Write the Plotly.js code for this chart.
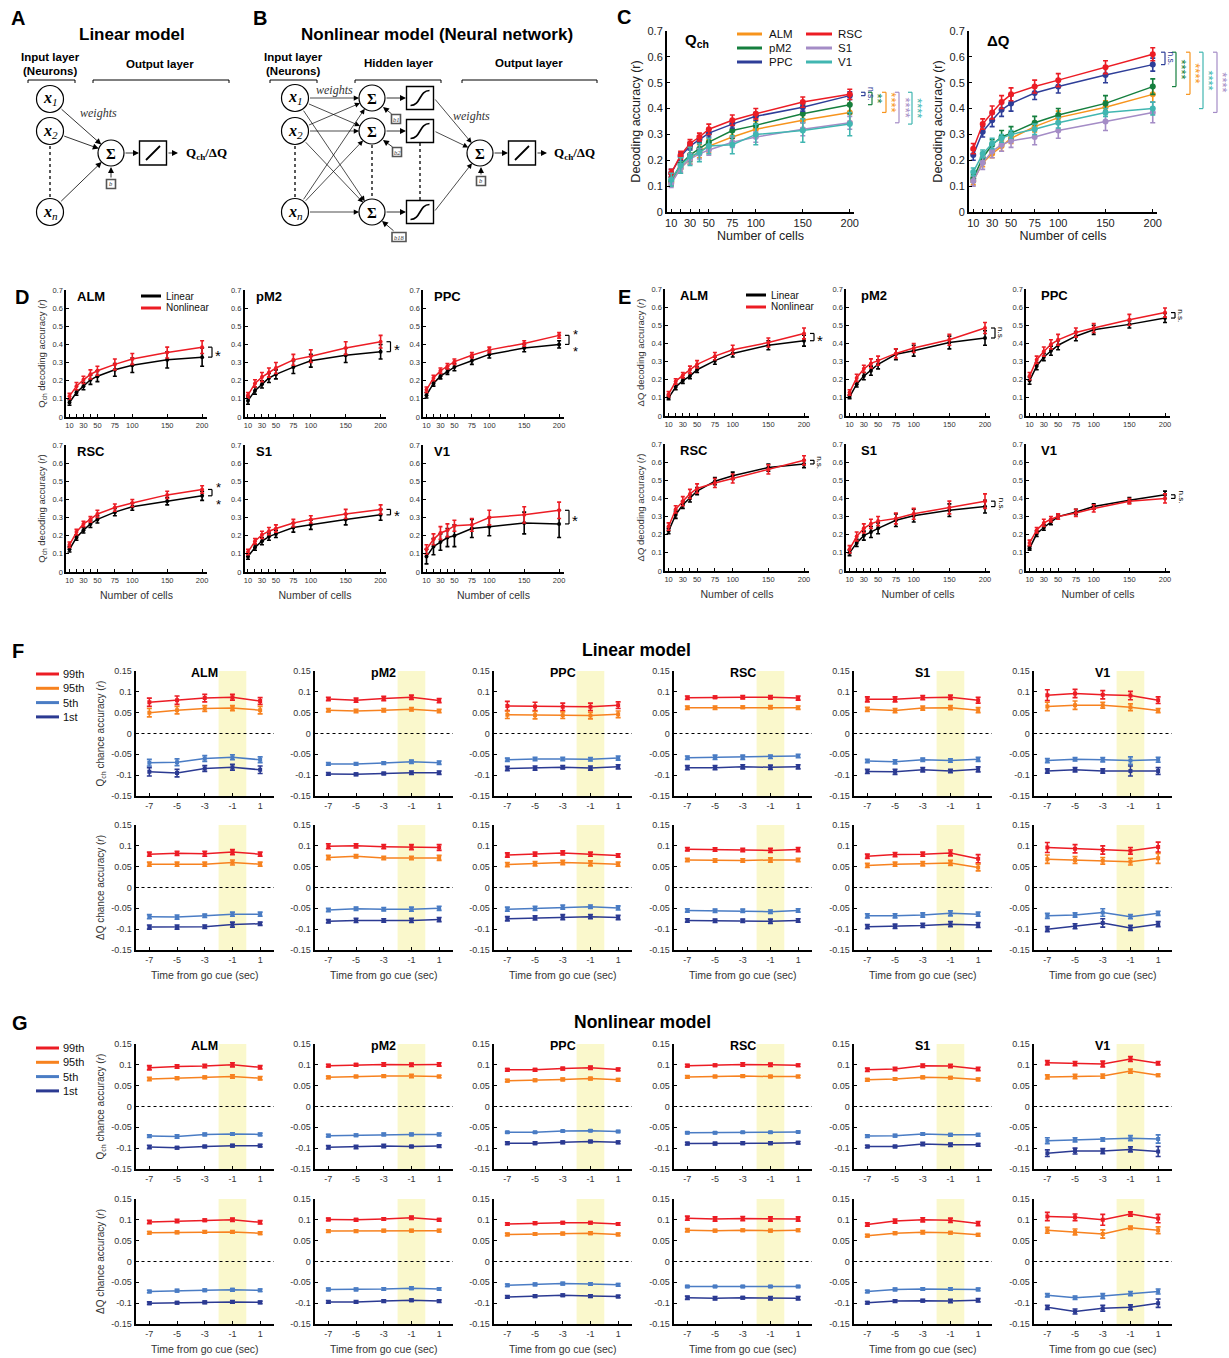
<!DOCTYPE html>
<html><head><meta charset="utf-8">
<script src="https://cdn.plot.ly/plotly-3.0.1.min.js"></script>
<style>html,body{margin:0;padding:0;background:#fff}</style>
</head><body><div id="fig" style="width:1229px;height:1358px"></div>
<script>
// ---------------- DATA ----------------
const nCells = [10,20,30,40,50,75,100,150,200];
const cellTickText = ['10','','30','','50','75','100','150','200'];
const accTicks = [0,0.1,0.2,0.3,0.4,0.5,0.6,0.7];
const accTickText = ['0','0.1','0.2','0.3','0.4','0.5','0.6','0.7'];
const timeBins = [-7,-5,-3,-1,1];
const timeTickText = ['-7','-5','-3','-1','1'];
const chanceTicks = [-0.15,-0.1,-0.05,0,0.05,0.1,0.15];
const chanceTickText = ['-0.15','-0.1','-0.05','0','0.05','0.1','0.15'];
const areas = ['ALM','pM2','PPC','RSC','S1','V1'];
const pctLabels = ['99th','95th','5th','1st'];

// Qch decoding accuracy (nonlinear = NL, linear = L)
const qchNL_ALM = [0.115,0.17,0.205,0.235,0.255,0.29,0.32,0.355,0.385];
const qchNL_ALM_err = [0.015,0.02,0.02,0.025,0.025,0.03,0.03,0.03,0.035];
const qchL_ALM = [0.08,0.135,0.17,0.205,0.225,0.26,0.285,0.315,0.33];
const qchL_ALM_err = [0.015,0.015,0.02,0.025,0.03,0.035,0.04,0.045,0.05];
const qchNL_pM2 = [0.12,0.185,0.22,0.245,0.27,0.315,0.335,0.38,0.415];
const qchNL_pM2_err = [0.015,0.02,0.025,0.025,0.03,0.03,0.035,0.035,0.035];
const qchL_pM2 = [0.09,0.145,0.18,0.215,0.235,0.275,0.31,0.34,0.36];
const qchL_pM2_err = [0.02,0.02,0.02,0.025,0.025,0.035,0.035,0.04,0.04];
const qchNL_PPC = [0.15,0.215,0.255,0.28,0.305,0.34,0.37,0.405,0.45];
const qchNL_PPC_err = [0.015,0.015,0.015,0.015,0.015,0.015,0.015,0.015,0.015];
const qchL_PPC = [0.12,0.185,0.225,0.25,0.275,0.31,0.345,0.38,0.4];
const qchL_PPC_err = [0.015,0.015,0.015,0.015,0.02,0.02,0.02,0.02,0.02];
const qchNL_RSC = [0.15,0.22,0.265,0.29,0.32,0.355,0.38,0.425,0.455];
const qchNL_RSC_err = [0.015,0.015,0.015,0.015,0.02,0.02,0.02,0.02,0.02];
const qchL_RSC = [0.125,0.19,0.23,0.265,0.29,0.33,0.36,0.39,0.42];
const qchL_RSC_err = [0.015,0.015,0.015,0.02,0.02,0.02,0.02,0.02,0.025];
const qchNL_S1 = [0.11,0.17,0.205,0.225,0.24,0.27,0.29,0.32,0.345];
const qchNL_S1_err = [0.015,0.015,0.02,0.02,0.02,0.02,0.02,0.025,0.025];
const qchL_S1 = [0.085,0.135,0.17,0.195,0.21,0.245,0.26,0.29,0.315];
const qchL_S1_err = [0.015,0.015,0.02,0.02,0.02,0.025,0.025,0.03,0.03];
const qchNL_V1 = [0.125,0.18,0.215,0.23,0.255,0.26,0.3,0.315,0.34];
const qchNL_V1_err = [0.025,0.03,0.035,0.035,0.03,0.035,0.04,0.045,0.045];
const qchL_V1 = [0.085,0.14,0.165,0.19,0.2,0.24,0.25,0.27,0.265];
const qchL_V1_err = [0.04,0.045,0.045,0.05,0.06,0.05,0.05,0.06,0.075];

// ΔQ decoding accuracy
const dqNL_ALM = [0.12,0.19,0.225,0.255,0.285,0.33,0.365,0.405,0.455];
const dqNL_ALM_err = [0.015,0.015,0.015,0.02,0.02,0.02,0.025,0.025,0.03];
const dqL_ALM = [0.1,0.16,0.195,0.22,0.255,0.305,0.345,0.39,0.415];
const dqL_ALM_err = [0.01,0.015,0.015,0.015,0.015,0.02,0.02,0.025,0.03];
const dqNL_pM2 = [0.13,0.21,0.26,0.29,0.305,0.345,0.375,0.42,0.485];
const dqNL_pM2_err = [0.015,0.02,0.02,0.025,0.025,0.025,0.025,0.03,0.03];
const dqL_pM2 = [0.105,0.175,0.22,0.25,0.285,0.34,0.36,0.405,0.43];
const dqL_pM2_err = [0.01,0.015,0.02,0.025,0.025,0.03,0.03,0.035,0.04];
const dqNL_PPC = [0.22,0.31,0.355,0.395,0.42,0.46,0.485,0.53,0.57];
const dqNL_PPC_err = [0.02,0.02,0.025,0.025,0.03,0.025,0.025,0.03,0.025];
const dqL_PPC = [0.195,0.275,0.325,0.36,0.39,0.44,0.475,0.505,0.54];
const dqL_PPC_err = [0.02,0.02,0.02,0.025,0.025,0.025,0.025,0.02,0.025];
const dqNL_RSC = [0.245,0.34,0.385,0.425,0.455,0.485,0.51,0.56,0.61];
const dqNL_RSC_err = [0.02,0.02,0.025,0.025,0.025,0.025,0.025,0.025,0.025];
const dqL_RSC = [0.22,0.31,0.365,0.4,0.44,0.495,0.525,0.57,0.59];
const dqL_RSC_err = [0.015,0.02,0.02,0.02,0.02,0.02,0.02,0.02,0.02];
const dqNL_S1 = [0.12,0.19,0.235,0.26,0.275,0.29,0.315,0.35,0.385];
const dqNL_S1_err = [0.02,0.025,0.025,0.025,0.025,0.03,0.03,0.035,0.04];
const dqL_S1 = [0.1,0.155,0.195,0.215,0.235,0.28,0.305,0.335,0.355];
const dqL_S1_err = [0.015,0.02,0.025,0.03,0.03,0.035,0.035,0.035,0.035];
const dqNL_V1 = [0.155,0.225,0.265,0.285,0.3,0.32,0.345,0.385,0.4];
const dqNL_V1_err = [0.015,0.015,0.02,0.015,0.015,0.02,0.02,0.015,0.025];
const dqL_V1 = [0.125,0.205,0.24,0.27,0.3,0.325,0.355,0.39,0.42];
const dqL_V1_err = [0.01,0.015,0.015,0.015,0.015,0.015,0.015,0.015,0.02];

// Chance accuracy percentiles [99th, 95th, 5th, 1st] x timeBins
// Linear model, Qch
const linQch_ALM = [[0.075,0.08,0.085,0.087,0.078],[0.05,0.056,0.06,0.061,0.056],[-0.07,-0.069,-0.06,-0.057,-0.063],[-0.092,-0.095,-0.084,-0.081,-0.087]];
const linQch_ALM_err = [[0.01,0.01,0.009,0.007,0.008],[0.01,0.009,0.007,0.006,0.009],[0.008,0.008,0.007,0.006,0.007],[0.01,0.009,0.007,0.007,0.009]];
const linQch_pM2 = [[0.083,0.08,0.084,0.087,0.079],[0.056,0.054,0.056,0.058,0.054],[-0.073,-0.073,-0.071,-0.068,-0.07],[-0.097,-0.098,-0.096,-0.094,-0.094]];
const linQch_pM2_err = [[0.004,0.005,0.005,0.005,0.005],[0.004,0.004,0.004,0.004,0.004],[0.003,0.003,0.003,0.004,0.004],[0.003,0.003,0.003,0.004,0.004]];
const linQch_PPC = [[0.066,0.065,0.064,0.064,0.068],[0.045,0.044,0.044,0.043,0.046],[-0.063,-0.061,-0.061,-0.062,-0.059],[-0.084,-0.083,-0.081,-0.083,-0.08]];
const linQch_PPC_err = [[0.011,0.01,0.009,0.009,0.008],[0.009,0.009,0.008,0.008,0.008],[0.004,0.004,0.004,0.004,0.005],[0.005,0.005,0.004,0.005,0.005]];
const linQch_RSC = [[0.086,0.087,0.087,0.087,0.085],[0.062,0.062,0.063,0.063,0.062],[-0.058,-0.057,-0.057,-0.056,-0.054],[-0.082,-0.082,-0.08,-0.081,-0.08]];
const linQch_RSC_err = [[0.004,0.003,0.004,0.004,0.005],[0.004,0.004,0.003,0.004,0.004],[0.004,0.005,0.005,0.004,0.004],[0.005,0.005,0.005,0.005,0.005]];
const linQch_S1 = [[0.082,0.082,0.086,0.087,0.08],[0.058,0.055,0.061,0.062,0.056],[-0.066,-0.068,-0.063,-0.065,-0.062],[-0.091,-0.092,-0.087,-0.09,-0.086]];
const linQch_S1_err = [[0.006,0.006,0.005,0.005,0.007],[0.005,0.005,0.005,0.005,0.006],[0.004,0.005,0.004,0.004,0.005],[0.005,0.006,0.005,0.004,0.006]];
const linQch_V1 = [[0.092,0.096,0.093,0.091,0.08],[0.065,0.068,0.068,0.063,0.055],[-0.065,-0.062,-0.063,-0.065,-0.063],[-0.09,-0.087,-0.09,-0.09,-0.09]];
const linQch_V1_err = [[0.013,0.01,0.01,0.01,0.008],[0.01,0.01,0.007,0.008,0.005],[0.005,0.004,0.005,0.009,0.006],[0.005,0.005,0.005,0.012,0.008]];
// Linear model, ΔQ
const linDQ_ALM = [[0.08,0.082,0.081,0.085,0.08],[0.056,0.056,0.056,0.06,0.056],[-0.07,-0.071,-0.068,-0.064,-0.064],[-0.095,-0.095,-0.094,-0.089,-0.087]];
const linDQ_ALM_err = [[0.005,0.005,0.006,0.006,0.005],[0.005,0.005,0.005,0.006,0.005],[0.005,0.005,0.004,0.005,0.005],[0.005,0.005,0.004,0.006,0.004]];
const linDQ_pM2 = [[0.099,0.1,0.098,0.097,0.096],[0.072,0.075,0.071,0.071,0.071],[-0.054,-0.051,-0.052,-0.052,-0.05],[-0.081,-0.079,-0.079,-0.079,-0.077]];
const linDQ_pM2_err = [[0.006,0.005,0.005,0.006,0.007],[0.005,0.004,0.004,0.004,0.006],[0.004,0.004,0.004,0.005,0.005],[0.004,0.005,0.004,0.005,0.005]];
const linDQ_PPC = [[0.078,0.08,0.083,0.08,0.077],[0.055,0.057,0.06,0.058,0.056],[-0.052,-0.05,-0.047,-0.046,-0.049],[-0.075,-0.073,-0.071,-0.07,-0.072]];
const linDQ_PPC_err = [[0.005,0.005,0.005,0.005,0.004],[0.005,0.005,0.005,0.006,0.005],[0.005,0.005,0.005,0.004,0.005],[0.005,0.005,0.006,0.005,0.005]];
const linDQ_RSC = [[0.092,0.091,0.09,0.089,0.091],[0.066,0.065,0.065,0.066,0.066],[-0.055,-0.056,-0.056,-0.058,-0.055],[-0.079,-0.08,-0.08,-0.081,-0.079]];
const linDQ_RSC_err = [[0.004,0.004,0.004,0.005,0.005],[0.004,0.004,0.004,0.005,0.004],[0.004,0.004,0.004,0.004,0.004],[0.004,0.004,0.004,0.005,0.004]];
const linDQ_S1 = [[0.075,0.079,0.08,0.083,0.069],[0.053,0.056,0.057,0.059,0.048],[-0.068,-0.068,-0.066,-0.062,-0.064],[-0.094,-0.093,-0.091,-0.088,-0.09]];
const linDQ_S1_err = [[0.005,0.005,0.005,0.007,0.01],[0.005,0.005,0.005,0.006,0.008],[0.005,0.005,0.005,0.006,0.005],[0.005,0.005,0.005,0.006,0.006]];
const linDQ_V1 = [[0.096,0.093,0.09,0.088,0.097],[0.068,0.066,0.064,0.062,0.07],[-0.068,-0.066,-0.06,-0.07,-0.062],[-0.1,-0.093,-0.085,-0.097,-0.088]];
const linDQ_V1_err = [[0.012,0.01,0.01,0.008,0.012],[0.01,0.008,0.008,0.008,0.012],[0.006,0.005,0.009,0.005,0.005],[0.006,0.006,0.01,0.006,0.006]];
// Nonlinear model, Qch
const nlQch_ALM = [[0.093,0.096,0.097,0.1,0.094],[0.066,0.068,0.07,0.072,0.068],[-0.071,-0.072,-0.067,-0.066,-0.067],[-0.097,-0.099,-0.096,-0.094,-0.094]];
const nlQch_ALM_err = [[0.005,0.004,0.004,0.005,0.004],[0.004,0.003,0.003,0.004,0.004],[0.003,0.004,0.003,0.003,0.003],[0.004,0.003,0.003,0.003,0.003]];
const nlQch_pM2 = [[0.098,0.1,0.101,0.1,0.101],[0.07,0.072,0.073,0.073,0.072],[-0.07,-0.069,-0.067,-0.067,-0.067],[-0.098,-0.097,-0.095,-0.096,-0.095]];
const nlQch_pM2_err = [[0.003,0.003,0.004,0.004,0.004],[0.003,0.003,0.003,0.004,0.003],[0.003,0.003,0.003,0.003,0.003],[0.004,0.004,0.004,0.003,0.003]];
const nlQch_PPC = [[0.088,0.088,0.091,0.093,0.089],[0.062,0.063,0.065,0.067,0.064],[-0.062,-0.062,-0.059,-0.058,-0.06],[-0.088,-0.088,-0.086,-0.084,-0.086]];
const nlQch_PPC_err = [[0.003,0.003,0.003,0.004,0.003],[0.003,0.003,0.003,0.003,0.003],[0.002,0.002,0.002,0.002,0.002],[0.003,0.003,0.003,0.003,0.003]];
const nlQch_RSC = [[0.098,0.099,0.101,0.1,0.099],[0.071,0.072,0.073,0.072,0.072],[-0.063,-0.063,-0.062,-0.062,-0.061],[-0.089,-0.089,-0.088,-0.088,-0.087]];
const nlQch_RSC_err = [[0.003,0.003,0.004,0.004,0.003],[0.003,0.003,0.003,0.003,0.003],[0.002,0.002,0.002,0.002,0.002],[0.003,0.003,0.003,0.003,0.003]];
const nlQch_S1 = [[0.088,0.09,0.098,0.097,0.09],[0.064,0.066,0.07,0.069,0.065],[-0.071,-0.07,-0.066,-0.068,-0.068],[-0.096,-0.096,-0.09,-0.092,-0.092]];
const nlQch_S1_err = [[0.004,0.004,0.004,0.004,0.004],[0.003,0.003,0.003,0.003,0.003],[0.003,0.003,0.003,0.003,0.003],[0.003,0.003,0.004,0.004,0.003]];
const nlQch_V1 = [[0.105,0.103,0.102,0.114,0.104],[0.071,0.072,0.073,0.085,0.075],[-0.082,-0.08,-0.079,-0.076,-0.078],[-0.112,-0.107,-0.107,-0.103,-0.108]];
const nlQch_V1_err = [[0.005,0.005,0.007,0.006,0.004],[0.005,0.005,0.005,0.005,0.003],[0.007,0.005,0.004,0.006,0.01],[0.008,0.007,0.006,0.006,0.012]];
// Nonlinear model, ΔQ
const nlDQ_ALM = [[0.095,0.097,0.099,0.1,0.094],[0.069,0.07,0.071,0.071,0.068],[-0.072,-0.07,-0.069,-0.068,-0.069],[-0.1,-0.099,-0.098,-0.097,-0.098]];
const nlDQ_ALM_err = [[0.004,0.004,0.003,0.004,0.004],[0.003,0.003,0.003,0.003,0.003],[0.003,0.003,0.003,0.003,0.003],[0.003,0.003,0.003,0.003,0.003]];
const nlDQ_pM2 = [[0.101,0.1,0.102,0.105,0.1],[0.073,0.073,0.074,0.074,0.074],[-0.067,-0.067,-0.066,-0.064,-0.066],[-0.097,-0.097,-0.095,-0.093,-0.095]];
const nlDQ_pM2_err = [[0.003,0.003,0.003,0.004,0.003],[0.003,0.003,0.003,0.003,0.003],[0.003,0.003,0.003,0.003,0.003],[0.003,0.003,0.003,0.003,0.003]];
const nlDQ_PPC = [[0.09,0.092,0.093,0.093,0.09],[0.065,0.066,0.067,0.068,0.065],[-0.057,-0.055,-0.053,-0.054,-0.056],[-0.085,-0.083,-0.081,-0.083,-0.084]];
const nlDQ_PPC_err = [[0.003,0.003,0.003,0.003,0.003],[0.003,0.003,0.003,0.003,0.003],[0.003,0.003,0.003,0.003,0.003],[0.003,0.003,0.003,0.003,0.003]];
const nlDQ_RSC = [[0.104,0.102,0.103,0.102,0.102],[0.075,0.074,0.075,0.074,0.075],[-0.06,-0.06,-0.06,-0.06,-0.06],[-0.087,-0.088,-0.087,-0.088,-0.088]];
const nlDQ_RSC_err = [[0.005,0.005,0.005,0.005,0.005],[0.004,0.003,0.003,0.003,0.003],[0.002,0.002,0.002,0.002,0.002],[0.004,0.004,0.003,0.004,0.004]];
const nlDQ_S1 = [[0.089,0.097,0.1,0.099,0.091],[0.062,0.068,0.07,0.069,0.064],[-0.072,-0.067,-0.066,-0.066,-0.067],[-0.099,-0.095,-0.094,-0.095,-0.093]];
const nlDQ_S1_err = [[0.004,0.005,0.005,0.005,0.005],[0.003,0.003,0.004,0.003,0.003],[0.003,0.003,0.003,0.003,0.003],[0.003,0.003,0.003,0.004,0.004]];
const nlDQ_V1 = [[0.108,0.106,0.1,0.114,0.103],[0.075,0.071,0.066,0.081,0.075],[-0.081,-0.087,-0.083,-0.077,-0.072],[-0.11,-0.12,-0.112,-0.11,-0.1]];
const nlDQ_V1_err = [[0.01,0.008,0.013,0.005,0.01],[0.007,0.007,0.01,0.004,0.008],[0.004,0.004,0.006,0.005,0.006],[0.005,0.006,0.007,0.006,0.01]];

// ---------------- STYLE / HELPERS ----------------
const W = 1229, H = 1358;
const PX = x => x / W, PY = y => 1 - y / H;
const FONT = 'Liberation Sans, Arial, Helvetica, sans-serif';
const SERIF = 'Liberation Serif, Times New Roman, serif';
const areaColors = {ALM:'#F7941D', pM2:'#157F3E', PPC:'#2E3E98', RSC:'#EC1C24', S1:'#A48CC6', V1:'#41B6B1'};
const pctColors = ['#EC1C24','#F7821F','#4A7CC4','#2B3A92'];
const LIN = '#000000', NLC = '#EC1C24';
const TICKC = '#333333';

const qchNL = {ALM:qchNL_ALM,pM2:qchNL_pM2,PPC:qchNL_PPC,RSC:qchNL_RSC,S1:qchNL_S1,V1:qchNL_V1};
const qchNLe = {ALM:qchNL_ALM_err,pM2:qchNL_pM2_err,PPC:qchNL_PPC_err,RSC:qchNL_RSC_err,S1:qchNL_S1_err,V1:qchNL_V1_err};
const qchL = {ALM:qchL_ALM,pM2:qchL_pM2,PPC:qchL_PPC,RSC:qchL_RSC,S1:qchL_S1,V1:qchL_V1};
const qchLe = {ALM:qchL_ALM_err,pM2:qchL_pM2_err,PPC:qchL_PPC_err,RSC:qchL_RSC_err,S1:qchL_S1_err,V1:qchL_V1_err};
const dqNL = {ALM:dqNL_ALM,pM2:dqNL_pM2,PPC:dqNL_PPC,RSC:dqNL_RSC,S1:dqNL_S1,V1:dqNL_V1};
const dqNLe = {ALM:dqNL_ALM_err,pM2:dqNL_pM2_err,PPC:dqNL_PPC_err,RSC:dqNL_RSC_err,S1:dqNL_S1_err,V1:dqNL_V1_err};
const dqL = {ALM:dqL_ALM,pM2:dqL_pM2,PPC:dqL_PPC,RSC:dqL_RSC,S1:dqL_S1,V1:dqL_V1};
const dqLe = {ALM:dqL_ALM_err,pM2:dqL_pM2_err,PPC:dqL_PPC_err,RSC:dqL_RSC_err,S1:dqL_S1_err,V1:dqL_V1_err};
const chanceSets = {
  linQch:{ALM:[linQch_ALM,linQch_ALM_err],pM2:[linQch_pM2,linQch_pM2_err],PPC:[linQch_PPC,linQch_PPC_err],RSC:[linQch_RSC,linQch_RSC_err],S1:[linQch_S1,linQch_S1_err],V1:[linQch_V1,linQch_V1_err]},
  linDQ:{ALM:[linDQ_ALM,linDQ_ALM_err],pM2:[linDQ_pM2,linDQ_pM2_err],PPC:[linDQ_PPC,linDQ_PPC_err],RSC:[linDQ_RSC,linDQ_RSC_err],S1:[linDQ_S1,linDQ_S1_err],V1:[linDQ_V1,linDQ_V1_err]},
  nlQch:{ALM:[nlQch_ALM,nlQch_ALM_err],pM2:[nlQch_pM2,nlQch_pM2_err],PPC:[nlQch_PPC,nlQch_PPC_err],RSC:[nlQch_RSC,nlQch_RSC_err],S1:[nlQch_S1,nlQch_S1_err],V1:[nlQch_V1,nlQch_V1_err]},
  nlDQ:{ALM:[nlDQ_ALM,nlDQ_ALM_err],pM2:[nlDQ_pM2,nlDQ_pM2_err],PPC:[nlDQ_PPC,nlDQ_PPC_err],RSC:[nlDQ_RSC,nlDQ_RSC_err],S1:[nlDQ_S1,nlDQ_S1_err],V1:[nlDQ_V1,nlDQ_V1_err]}
};

const traces = [], shapes = [], ann = [];
const layout = {width:W, height:H, margin:{l:0,r:0,t:0,b:0,pad:0}, paper_bgcolor:'#fff', plot_bgcolor:'rgba(0,0,0,0)',
  showlegend:false, hovermode:false, font:{family:FONT, color:'#000'}, shapes:shapes, annotations:ann};

let nAx = 0;
function newAxes(l,t,r,b,xo,yo){
  nAx++;
  const s = nAx === 1 ? '' : String(nAx);
  const base = {showgrid:false, zeroline:false, showline:true, linecolor:'#000', linewidth:2, ticks:'inside', ticklen:3,
    tickwidth:1, tickcolor:'#000', fixedrange:true, automargin:false};
  layout['xaxis'+s] = Object.assign({}, base, {domain:[PX(l),PX(r)], anchor:'y'+s}, xo);
  layout['yaxis'+s] = Object.assign({}, base, {domain:[PY(b),PY(t)], anchor:'x'+s}, yo);
  return {x:'x'+s, y:'y'+s};
}
function T(x,y,text,size,o){
  ann.push(Object.assign({xref:'paper',yref:'paper',x:PX(x),y:PY(y),text:text,showarrow:false,xanchor:'center',yanchor:'middle',
    font:{family:FONT,size:size,color:'#000'}}, o||{}));
}
function seg(x0,y0,x1,y1,w,col,dash){
  shapes.push({type:'line',xref:'paper',yref:'paper',x0:PX(x0),y0:PY(y0),x1:PX(x1),y1:PY(y1),line:{color:col||'#000',width:w||1,dash:dash||'solid'}});
}
function circ(cx,cy,r,w){
  shapes.push({type:'circle',xref:'paper',yref:'paper',x0:PX(cx-r),x1:PX(cx+r),y0:PY(cy+r),y1:PY(cy-r),line:{color:'#000',width:w||1.2}});
}
function rect(l,t,r,b,w,col){
  shapes.push({type:'rect',xref:'paper',yref:'paper',x0:PX(l),x1:PX(r),y0:PY(b),y1:PY(t),line:{color:col||'#000',width:w||1.2}});
}
function arr(x0,y0,x1,y1,w){
  ann.push({xref:'paper',yref:'paper',x:PX(x1),y:PY(y1),ax:x0-x1,ay:y0-y1,axref:'pixel',ayref:'pixel',text:'',
    showarrow:true,arrowhead:2,arrowsize:1.5,arrowwidth:w||0.8,arrowcolor:'#000',standoff:0,startstandoff:0});
}
function arrC(a,b,w){
  const dx=b.x-a.x, dy=b.y-a.y, d=Math.hypot(dx,dy), ux=dx/d, uy=dy/d;
  arr(a.x+ux*(a.r||0), a.y+uy*(a.r||0), b.x-ux*(b.r||0), b.y-uy*(b.r||0), w);
}
function sigBox(cx,cy){
  const w=27,h=23; rect(cx-w/2,cy-h/2,cx+w/2,cy+h/2,1.4);
  const l=cx-w/2+4, r=cx+w/2-4, t=cy-h/2+4, b=cy+h/2-4;
  shapes.push({type:'path',xref:'paper',yref:'paper',
    path:`M${PX(l)},${PY(b)} C${PX(cx+1)},${PY(b)} ${PX(cx-1)},${PY(t)} ${PX(r)},${PY(t)}`,line:{color:'#000',width:1.6}});
}
function linBox(cx,cy){
  const w=27,h=24; rect(cx-w/2,cy-h/2,cx+w/2,cy+h/2,1.4);
  seg(cx-7,cy+7,cx+7,cy-7,1.8);
}
function bBox(cx,cy,w,label){
  rect(cx-w/2,cy-4.5,cx+w/2,cy+4.5,1.6,'#555');
  T(cx,cy,'<i>'+label+'</i>',6.5,{font:{family:SERIF,size:6.5,color:'#333'}});
}
function xNode(cx,cy,sub){
  circ(cx,cy,13.5,1.2);
  T(cx,cy,'<b><i>x</i></b><sub><i>'+sub+'</i></sub>',16,{font:{family:SERIF,size:16,color:'#000'}});
}
function sumNode(cx,cy){
  circ(cx,cy,13,1.2);
  T(cx,cy+1,'<b>Σ</b>',15,{font:{family:SERIF,size:15,color:'#000'}});
}
function layerBracket(l,r,y){ seg(l,y,r,y,1); seg(l,y,l,y+3,1); seg(r,y,r,y+3,1); }

// ---------------- PANEL A ----------------
T(18,18,'<b>A</b>',20,{font:{family:FONT,size:20,color:'#000'}});
T(132,34,'<b>Linear model</b>',17,{font:{family:FONT,size:17,color:'#000'}});
T(50,57,'<b>Input layer</b>',11.5,{font:{family:FONT,size:11.5,color:'#000'}});
T(50,71,'<b>(Neurons)</b>',11.5,{font:{family:FONT,size:11.5,color:'#000'}});
T(160,64,'<b>Output layer</b>',11.5,{font:{family:FONT,size:11.5,color:'#000'}});
layerBracket(28,75,80); layerBracket(93,229,80);
const A_in = [{x:50,y:99,r:13.5,s:'1'},{x:50,y:131,r:13.5,s:'2'},{x:50,y:212,r:13.5,s:'n'}];
const A_sum = {x:111,y:153,r:13};
A_in.forEach(n=>{ xNode(n.x,n.y,n.s); arrC(n,A_sum); });
seg(50,146,50,197,1.3,'#000','dot');
sumNode(A_sum.x,A_sum.y);
linBox(153,153);
arr(124,153,139,153);
arr(167,153,178,153);
T(206,153,'<b>Q<sub>ch</sub>/ΔQ</b>',13,{font:{family:SERIF,size:13,color:'#000'}});
bBox(111,184,9,'b'); arr(111,179,111,167);
T(98,113,'<i>weights</i>',12,{font:{family:SERIF,size:12,color:'#333'}});

// ---------------- PANEL B ----------------
T(260,18,'<b>B</b>',20,{font:{family:FONT,size:20,color:'#000'}});
T(437,34,'<b>Nonlinear model (Neural network)</b>',17,{font:{family:FONT,size:17,color:'#000'}});
T(293,57,'<b>Input layer</b>',11.5,{font:{family:FONT,size:11.5,color:'#000'}});
T(293,71,'<b>(Neurons)</b>',11.5,{font:{family:FONT,size:11.5,color:'#000'}});
T(399,63,'<b>Hidden layer</b>',11.5,{font:{family:FONT,size:11.5,color:'#000'}});
T(529,63,'<b>Output layer</b>',11.5,{font:{family:FONT,size:11.5,color:'#000'}});
layerBracket(270,317,80); layerBracket(355,441,80); layerBracket(462,597,80);
const B_in = [{x:295,y:98,r:13.5,s:'1'},{x:295,y:131,r:13.5,s:'2'},{x:295,y:212,r:13.5,s:'n'}];
const B_hid = [{x:372,y:98,r:13},{x:372,y:131,r:13},{x:372,y:212,r:13}];
const B_out = {x:480,y:153,r:13};
B_in.forEach(n=>{ xNode(n.x,n.y,n.s); B_hid.forEach(h=>arrC(n,h,0.7)); });
B_hid.forEach(h=>{ sumNode(h.x,h.y); arr(385,h.y,406,h.y); sigBox(420,h.y); arrC({x:434,y:h.y,r:0},B_out,0.7); });
seg(295,146,295,197,1.3,'#000','dot');
seg(372,145,372,198,1.3,'#000','dot');
seg(420,143,420,200,1.3,'#000','dot');
bBox(396,119,9,'b1'); arr(393,115,383,107);
bBox(397,152,9,'b2'); arr(394,148,383,140);
bBox(399,237,14,'b18'); arr(395,232,382,221);
sumNode(B_out.x,B_out.y);
arr(493,153,508,153);
linBox(522,153);
arr(536,153,547,153);
T(574,153,'<b>Q<sub>ch</sub>/ΔQ</b>',13,{font:{family:SERIF,size:13,color:'#000'}});
bBox(481,181,9,'b'); arr(481,176,481,167);
T(334,90,'<i>weights</i>',12,{font:{family:SERIF,size:12,color:'#333'}});
T(471,116,'<i>weights</i>',12,{font:{family:SERIF,size:12,color:'#333'}});

// ---------------- PANEL C ----------------
T(624,17,'<b>C</b>',20,{font:{family:FONT,size:20,color:'#000'}});
function bracket(ax,xpx,y0,y1,color,text,rot,fsize,yshift){
  const xp=PX(xpx), xl=PX(xpx-4);
  shapes.push({type:'line',xref:'paper',yref:ax.y,x0:xp,x1:xp,y0:y0,y1:y1,line:{color:color,width:1.2}});
  shapes.push({type:'line',xref:'paper',yref:ax.y,x0:xl,x1:xp,y0:y0,y1:y0,line:{color:color,width:1.2}});
  shapes.push({type:'line',xref:'paper',yref:ax.y,x0:xl,x1:xp,y0:y1,y1:y1,line:{color:color,width:1.2}});
  ann.push({xref:'paper',yref:ax.y,x:PX(xpx+6),y:(y0+y1)/2,yshift:yshift||0,text:text,textangle:rot?90:0,
    xanchor:'center',yanchor:'middle',showarrow:false,font:{family:FONT,size:fsize,color:color}});
}
function panelC(l,t,r,b,nlSet,nlErr,title,brackets,withLegend){
  const ax = newAxes(l,t,r,b,
    {range:[5.5,204.5],tickvals:nCells,ticktext:cellTickText,tickfont:{family:FONT,size:11,color:'#222'},
     title:{text:'Number of cells',font:{family:FONT,size:12.5,color:'#222'},standoff:2}},
    {range:[0,0.7],tickvals:accTicks,ticktext:accTickText,tickfont:{family:FONT,size:11,color:'#222'},
     title:{text:'Decoding accuracy (r)',font:{family:FONT,size:12.5,color:'#222'},standoff:4}});
  areas.forEach(a=>{
    traces.push({x:nCells,y:nlSet[a],error_y:{type:'data',array:nlErr[a],color:areaColors[a],thickness:1.6,width:2.5},
      mode:'lines+markers',line:{color:areaColors[a],width:1.5},marker:{color:areaColors[a],size:6},xaxis:ax.x,yaxis:ax.y});
  });
  ann.push({xref:ax.x+' domain',yref:ax.y+' domain',x:0.085,y:0.945,xanchor:'left',yanchor:'middle',text:'<b>'+title+'</b>',
    showarrow:false,font:{family:FONT,size:15,color:'#000'}});
  const top = nlSet.RSC[8]+0.008;
  brackets.forEach(bk=>{
    const isNS = bk[2]==='n.s.';
    bracket(ax,bk[1],top,nlSet[bk[0]][8],areaColors[bk[0]],bk[2],true,isNS?8.5:13,0);
  });
  if(withLegend){
    const cols=[[737,762,767],[806,832,836]], rows=[34,48,62];
    areas.forEach((a,i)=>{
      const c=cols[Math.floor(i/3)], y=rows[i%3];
      seg(c[0],y,c[1],y,3,areaColors[a]);
      T(c[2],y,a,11.5,{xanchor:'left',font:{family:FONT,size:11.5,color:'#111'}});
    });
  }
}
panelC(667,31,854,212,qchNL,qchNLe,'Q<sub>ch</sub>',
  [['PPC',865,'n.s.'],['pM2',872,'**'],['ALM',886,'****'],['S1',899,'****'],['V1',912,'****']],true);
panelC(969,31,1157,212,dqNL,dqNLe,'ΔQ',
  [['PPC',1165,'n.s.'],['pM2',1176,'****'],['ALM',1190,'****'],['V1',1203,'****'],['S1',1217,'****']],false);

// ---------------- PANELS D & E ----------------
T(22,297,'<b>D</b>',20,{font:{family:FONT,size:20,color:'#000'}});
T(624,297,'<b>E</b>',20,{font:{family:FONT,size:20,color:'#000'}});
function decPanel(l,t,w,h,area,nl,nlE,li,liE,o){
  const xo={range:[5,207],tickvals:nCells,ticktext:cellTickText,tickfont:{family:FONT,size:7.5,color:TICKC},linewidth:1.6};
  if(o.xlab) xo.title={text:'Number of cells',font:{family:FONT,size:10.5,color:'#333'},standoff:8};
  const yo={range:[0,0.7],tickvals:accTicks,ticktext:accTickText,tickfont:{family:FONT,size:7.5,color:TICKC},linewidth:1.6};
  if(o.ylab) yo.title={text:o.ylab,font:{family:FONT,size:9.5,color:'#333'},standoff:5};
  const ax=newAxes(l,t,l+w,t+h,xo,yo);
  traces.push({x:nCells,y:li,error_y:{type:'data',array:liE,color:LIN,thickness:1.6,width:2},mode:'lines+markers',
    line:{color:LIN,width:1.5},marker:{color:LIN,size:4},xaxis:ax.x,yaxis:ax.y});
  traces.push({x:nCells,y:nl,error_y:{type:'data',array:nlE,color:NLC,thickness:1.6,width:2},mode:'lines+markers',
    line:{color:NLC,width:1.5},marker:{color:NLC,size:4},xaxis:ax.x,yaxis:ax.y});
  ann.push({xref:ax.x+' domain',yref:ax.y+' domain',x:o.tx,y:0.945,xanchor:'left',yanchor:'middle',text:'<b>'+area+'</b>',
    showarrow:false,font:{family:FONT,size:13,color:'#000'}});
  const sig=o.sig, r=l+w;
  if(sig==='n.s.') bracket(ax,r+5,nl[8],li[8],'#000','n.s.',true,8,0);
  else if(sig==='**') bracket(ax,r+5,nl[8],li[8],'#000','*<br>*',false,13,-3);
  else bracket(ax,r+5,nl[8],li[8],'#000','*',false,15,-3);
  if(o.legend){
    const lx=o.legend;
    seg(lx[0],lx[2],lx[1],lx[2],3,LIN); T(lx[1]+3,lx[2],'Linear',10,{xanchor:'left',font:{family:FONT,size:10,color:'#111'}});
    seg(lx[0],lx[2]+12,lx[1],lx[2]+12,3,NLC); T(lx[1]+3,lx[2]+12,'Nonlinear',10,{xanchor:'left',font:{family:FONT,size:10,color:'#111'}});
  }
}
const dCols=[66,244.5,423], dRows=[290,445];
const eCols=[665,846,1026], eRows=[289,444];
const dSig={ALM:'*',pM2:'*',PPC:'**',RSC:'**',S1:'*',V1:'*'};
const eSig={ALM:'*',pM2:'n.s.',PPC:'n.s.',RSC:'n.s.',S1:'n.s.',V1:'n.s.'};
areas.forEach((a,i)=>{
  const row=Math.floor(i/3), col=i%3;
  decPanel(dCols[col],dRows[row],141,127,a,qchNL[a],qchNLe[a],qchL[a],qchLe[a],
    {xlab:row===1,ylab:col===0?'Q<sub>ch</sub> decoding accuracy (<i>r</i>)':null,tx:0.065,sig:dSig[a],legend:(i===0?[141,161,296]:null)});
  decPanel(eCols[col],eRows[row],144,127,a,dqNL[a],dqNLe[a],dqL[a],dqLe[a],
    {xlab:row===1,ylab:col===0?'ΔQ decoding accuracy (<i>r</i>)':null,tx:0.09,sig:eSig[a],legend:(i===0?[746,766,295]:null)});
});

// ---------------- PANELS F & G ----------------
function chancePanel(l,t,w,h,area,means,errs,o){
  const xo={range:[-8,2],tickvals:timeBins,ticktext:timeTickText,tickfont:{family:FONT,size:9,color:TICKC}};
  if(o.xlab) xo.title={text:'Time from go cue (sec)',font:{family:FONT,size:10.5,color:'#333'},standoff:8};
  const yo={range:[-0.15,0.15],tickvals:chanceTicks,ticktext:chanceTickText,tickfont:{family:FONT,size:9,color:TICKC}};
  if(o.ylab) yo.title={text:o.ylab,font:{family:FONT,size:10,color:'#333'},standoff:5};
  const ax=newAxes(l,t,l+w,t+h,xo,yo);
  shapes.push({type:'rect',xref:ax.x,yref:ax.y+' domain',x0:-2,x1:0,y0:0,y1:1,fillcolor:'#FAF8CC',line:{width:0},layer:'below'});
  shapes.push({type:'line',xref:ax.x+' domain',yref:ax.y,x0:0,x1:1,y0:0,y1:0,line:{color:'#000',width:1,dash:'dot'}});
  for(let i=0;i<4;i++){
    traces.push({x:timeBins,y:means[i],error_y:{type:'data',array:errs[i],color:pctColors[i],thickness:1.6,width:2.5},
      mode:'lines+markers',line:{color:pctColors[i],width:1.5},marker:{color:pctColors[i],size:4,symbol:'square'},xaxis:ax.x,yaxis:ax.y});
  }
  if(o.title) ann.push({xref:ax.x+' domain',yref:ax.y+' domain',x:0.5,y:0.985,xanchor:'center',yanchor:'middle',text:'<b>'+area+'</b>',
    showarrow:false,font:{family:FONT,size:12.5,color:'#000'}});
}
const fgCols=[135.5,314.5,493.5,673.5,853.5,1033.5];
const fgRows=[[671,'linQch',true],[825,'linDQ',false],[1044,'nlQch',true],[1199,'nlDQ',false]];
fgRows.forEach(rw=>{
  areas.forEach((a,ci)=>{
    const set=chanceSets[rw[1]][a];
    chancePanel(fgCols[ci],rw[0],138.5,125,a,set[0],set[1],
      {title:rw[2],xlab:!rw[2],ylab:ci===0?(rw[2]?'Q<sub>ch</sub> chance accuracy (<i>r</i>)':'ΔQ chance accuracy (<i>r</i>)'):null});
  });
});
T(18,651,'<b>F</b>',20,{font:{family:FONT,size:20,color:'#000'}});
T(20,1023,'<b>G</b>',20,{font:{family:FONT,size:20,color:'#000'}});
T(636,650,'<b>Linear model</b>',17.5,{font:{family:FONT,size:17.5,color:'#000'}});
T(642,1022,'<b>Nonlinear model</b>',17.5,{font:{family:FONT,size:17.5,color:'#000'}});
function pctLegend(y0){
  pctLabels.forEach((lb,i)=>{
    const y=y0+i*14.3;
    seg(36,y,59,y,3,pctColors[i]);
    T(61,y,lb,11,{xanchor:'left',font:{family:FONT,size:11,color:'#111'}});
  });
}
pctLegend(674); pctLegend(1048);

Plotly.newPlot('fig', traces, layout, {staticPlot:true, displayModeBar:false});
</script></body></html>
